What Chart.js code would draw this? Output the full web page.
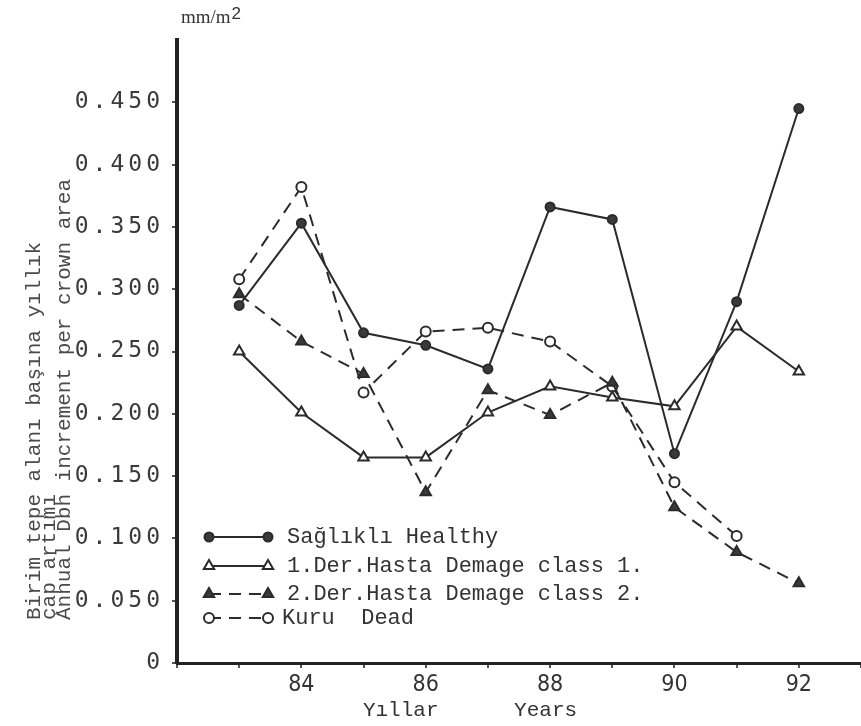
<!DOCTYPE html>
<html>
<head>
<meta charset="utf-8">
<script src="https://cdn.jsdelivr.net/npm/chart.js@4/dist/chart.umd.min.js"></script>
<style>
  html, body { margin: 0; padding: 0; background: #fff; }
  #kutu { width: 861px; height: 726px; }
</style>
</head>
<body>
<div id="kutu"><canvas id="grafik" width="861" height="726"></canvas></div>
<script>
// veriler
const yillar = [83, 84, 85, 86, 87, 88, 89, 90, 91, 92];
const saglikli = [0.287, 0.353, 0.265, 0.255, 0.236, 0.366, 0.356, 0.168, 0.290, 0.445];
const hasta1 = [0.250, 0.201, 0.165, 0.165, 0.201, 0.222, 0.213, 0.206, 0.270, 0.234];
const hasta2 = [0.296, 0.258, 0.232, 0.137, 0.219, 0.199, 0.225, 0.125, 0.089, 0.064];
const kuru = [0.308, 0.382, 0.217, 0.266, 0.269, 0.258, 0.222, 0.145, 0.102, null];
const xEtiketleri = [84, 86, 88, 90, 92];
const yEtiketleri = [0, 0.05, 0.1, 0.15, 0.2, 0.25, 0.3, 0.35, 0.4, 0.45];
const seriAdlari = [
  "Sağlıklı Healthy",
  "1.Der.Hasta Demage class 1.",
  "2.Der.Hasta Demage class 2.",
  "Kuru  Dead"
];

const MONO = "'Liberation Mono', 'DejaVu Sans Mono', monospace";
const cizgiRengi = "#2b2b2b";

function noktalar(seri) {
  return yillar.map((x, i) => ({ x: x, y: seri[i] }));
}

function seri(ad, veri, stil, dolu, kesikli, r) {
  return {
    label: ad,
    data: noktalar(veri),
    borderColor: cizgiRengi,
    borderWidth: 2,
    borderDash: kesikli ? [12, 8] : [],
    pointStyle: stil,
    pointRadius: r,
    pointBorderWidth: 2,
    pointBorderColor: cizgiRengi,
    pointBackgroundColor: dolu ? "#3a3a3a" : "#ffffff",
    tension: 0,
    spanGaps: false
  };
}

// y etiketlerinde harf araligi (daktilo gorunumu)
const aralikEklentisi = {
  id: "aralik",
  afterLayout(chart) {
    const y = chart.scales.y;
    if (y._aralikli) return;
    const asil = y.drawLabels;
    y.drawLabels = function (alan) {
      const ctx = this.ctx;
      ctx.save();
      ctx.letterSpacing = "4px";
      asil.call(this, alan);
      ctx.restore();
    };
    y._aralikli = true;
  }
};

// eksen yazilari, birim ve lejant
const yaziEklentisi = {
  id: "yazilar",
  afterDraw(chart) {
    const ctx = chart.ctx;
    ctx.save();
    ctx.fillStyle = "#4a4a4a";

    // dikey eksen basliklari
    const satirlar = [
      { x: 34, t: "Birim tepe alanı başına yıllık" },
      { x: 49, t: "çap artımı" },
      { x: 64, t: "Annual Dbh increment per crown area" }
    ];
    ctx.font = "21px " + MONO;
    ctx.textAlign = "left";
    ctx.textBaseline = "middle";
    satirlar.forEach(s => {
      ctx.save();
      ctx.translate(s.x, 620);
      ctx.rotate(-Math.PI / 2);
      ctx.fillText(s.t, 0, 0);
      ctx.restore();
    });

    // birim
    ctx.fillStyle = "#333";
    ctx.textBaseline = "alphabetic";
    ctx.font = "19px 'Liberation Serif', serif";
    ctx.fillText("mm/m", 181, 23);
    const w = ctx.measureText("mm/m").width;
    ctx.font = "17px 'Liberation Sans', sans-serif";
    ctx.fillText("2", 181 + w + 1, 19);

    // yatay eksen basligi
    ctx.font = "21px " + MONO;
    ctx.textAlign = "center";
    ctx.textBaseline = "middle";
    ctx.fillText("Yıllar      Years", 470, 710);

    // lejant
    const satirY = [537, 566, 594, 618];
    chart.data.datasets.forEach((ds, i) => {
      const y = satirY[i];
      const x1 = 209, x2 = 268;
      ctx.save();
      ctx.strokeStyle = ds.borderColor;
      ctx.lineWidth = ds.borderWidth;
      ctx.setLineDash(ds.borderDash);
      ctx.beginPath();
      ctx.moveTo(x1, y);
      ctx.lineTo(x2, y);
      ctx.stroke();
      ctx.setLineDash([]);
      [x1, x2].forEach(px => {
        ctx.fillStyle = ds.pointBackgroundColor;
        ctx.strokeStyle = ds.pointBorderColor;
        ctx.lineWidth = ds.pointBorderWidth;
        Chart.helpers.drawPoint(ctx, {
          pointStyle: ds.pointStyle,
          radius: ds.pointRadius,
          rotation: 0,
          borderWidth: ds.pointBorderWidth
        }, px, y);
      });
      ctx.restore();
      ctx.fillStyle = "#333";
      ctx.font = "22px " + MONO;
      ctx.textAlign = "left";
      ctx.textBaseline = "middle";
      ctx.fillText(ds.label, i === 3 ? 282 : 287, y);
    });
    ctx.restore();
  }
};

new Chart(document.getElementById("grafik"), {
  type: "line",
  data: {
    datasets: [
      seri(seriAdlari[0], saglikli, "circle", true, false, 4.5),
      seri(seriAdlari[1], hasta1, "triangle", false, false, 6),
      seri(seriAdlari[2], hasta2, "triangle", true, true, 6),
      seri(seriAdlari[3], kuru, "circle", false, true, 5)
    ]
  },
  options: {
    responsive: false,
    animation: false,
    layout: { autoPadding: false, padding: { top: 40, right: 0, left: 0, bottom: 0 } },
    plugins: {
      legend: { display: false },
      tooltip: { enabled: false }
    },
    scales: {
      x: {
        type: "linear",
        min: 82,
        max: 93,
        afterFit: s => { s.height = 63; s.paddingRight = 0; s.paddingLeft = 0; },
        border: { display: true, color: "#222", width: 3 },
        grid: { drawOnChartArea: false, drawTicks: true, tickLength: 5, color: "#555", lineWidth: 2 },
        ticks: {
          stepSize: 1,
          autoSkip: false,
          maxRotation: 0,
          padding: 3,
          color: "#333",
          font: { family: "'Liberation Sans Narrow', 'DejaVu Sans Condensed', 'Liberation Sans', sans-serif", size: 23 },
          callback: v => xEtiketleri.includes(v) ? String(v) : ""
        }
      },
      y: {
        min: 0,
        max: 0.5,
        afterFit: s => { s.width = 177; },
        afterBuildTicks: s => {
          s.ticks = yEtiketleri.map(v => ({ value: v }));
        },
        border: { display: true, color: "#222", width: 4 },
        grid: { drawOnChartArea: false, drawTicks: true, tickLength: 5, color: "#555", lineWidth: 2 },
        ticks: {
          padding: 8,
          color: "#3a3a3a",
          font: { family: "'DejaVu Sans Mono', monospace", size: 23 },
          callback: v => v === 0 ? "0" : v.toFixed(3)
        }
      }
    }
  },
  plugins: [aralikEklentisi, yaziEklentisi]
});
</script>
</body>
</html>
